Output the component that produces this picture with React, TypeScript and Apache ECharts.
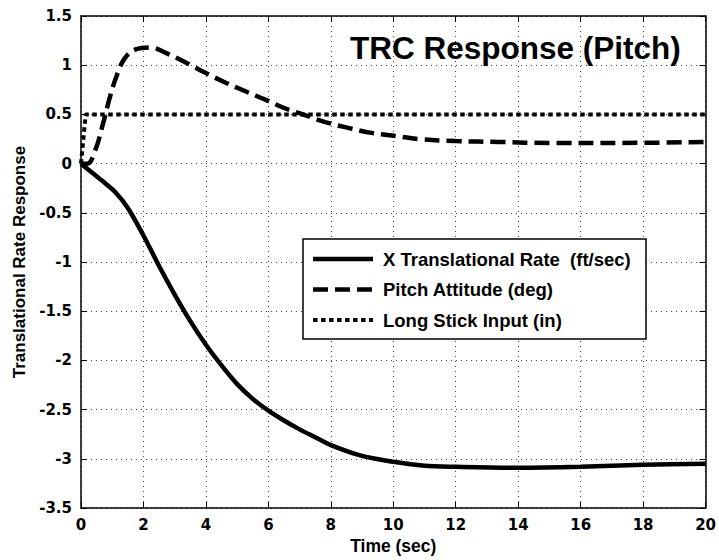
import React, { useEffect, useRef } from "react";
import * as echarts from "echarts";

// Time (sec) / value pairs for each response trace
const xTranslationalRate: [number, number][] = [
  [0, 0], [0.35, -0.09], [0.7, -0.18], [1.1, -0.29], [1.5, -0.45], [2.0, -0.73],
  [2.5, -1.04], [3.0, -1.33], [3.5, -1.6], [4.0, -1.84], [4.5, -2.05], [5.0, -2.24],
  [5.5, -2.39], [6.0, -2.51], [6.5, -2.61], [7.0, -2.7], [7.5, -2.78], [8.0, -2.86],
  [9.0, -2.97], [10, -3.03], [11, -3.07], [12, -3.08], [14, -3.09], [16, -3.08],
  [18, -3.06], [20, -3.05],
];

const pitchAttitude: [number, number][] = [
  [0, 0], [0.2, 0], [0.45, 0.13], [0.7, 0.4], [0.93, 0.68], [1.14, 0.89], [1.4, 1.07],
  [1.75, 1.16], [2.2, 1.18], [2.75, 1.12], [3.4, 1.02], [4.0, 0.92], [4.65, 0.82],
  [5.3, 0.73], [5.9, 0.65], [6.55, 0.56], [7.1, 0.5], [7.85, 0.42], [8.6, 0.36],
  [9.35, 0.31], [10.1, 0.28], [10.8, 0.25], [12, 0.23], [13.4, 0.22], [15, 0.21],
  [17, 0.21], [20, 0.22],
];

const longStickInput: [number, number][] = [
  [0, 0], [0.15, 0.5], [20, 0.5],
];

const seriesNames = [
  "X Translational Rate  (ft/sec)",
  "Pitch Attitude (deg)",
  "Long Stick Input (in)",
];

const FONT = "'Liberation Sans', Arial, Helvetica, sans-serif";
const TICK_FONT = "'DejaVu Sans', 'Liberation Sans', sans-serif";
const solidDash: number[] | null = null;
const dashPattern = [15, 7];
const dotPattern = [4.5, 3.5];

export default function App() {
  const ref = useRef<HTMLDivElement>(null);

  useEffect(() => {
    if (!ref.current) return;
    const chart = echarts.init(ref.current, undefined, { renderer: "svg" });

    const axisCommon = {
      min: 0,
      max: 20,
      interval: 2,
    };
    const yCommon = {
      min: -3.5,
      max: 1.5,
      interval: 0.5,
    };
    const axisLine = { show: true, onZero: false, lineStyle: { color: "#000", width: 1.5 } };
    const tick = { show: true, inside: true, length: 6, lineStyle: { color: "#000", width: 1 } };
    const gridLine = { show: true, lineStyle: { color: "#444", width: 1, type: [1, 4] as number[] } };
    const tickLabel = {
      fontFamily: TICK_FONT,
      fontWeight: "bold" as const,
      fontSize: 15,
      color: "#000",
      margin: 9,
    };

    const legendLeft = 303;
    const legendTop = 239;
    const legendW = 343;
    const legendH = 100;
    const rowY = [259, 289.5, 320];
    const dashes = [solidDash, dashPattern, dotPattern];
    const widths = [4.5, 4.5, 4];

    const legendGraphics: any[] = [
      {
        type: "rect",
        shape: { x: legendLeft, y: legendTop, width: legendW, height: legendH },
        style: { fill: "#fff", stroke: "#000", lineWidth: 1.5 },
        z: 100,
      },
    ];
    seriesNames.forEach((name, i) => {
      legendGraphics.push({
        type: "line",
        shape: { x1: 313, y1: rowY[i], x2: 373, y2: rowY[i] },
        style: {
          stroke: "#000",
          lineWidth: widths[i],
          lineDash: dashes[i] || undefined,
          lineCap: "butt",
        },
        z: 101,
      });
      legendGraphics.push({
        type: "text",
        x: 383,
        y: rowY[i],
        style: {
          text: name,
          font: `bold 18.5px ${FONT}`,
          fill: "#000",
          align: "left",
          verticalAlign: "middle",
        },
        z: 101,
      });
    });

    chart.setOption({
      animation: false,
      backgroundColor: "#fff",
      textStyle: { fontFamily: FONT, fontWeight: "bold", color: "#000" },
      grid: { left: 81, top: 16, right: 12, bottom: 51, containLabel: false },
      xAxis: [
        {
          type: "value",
          ...axisCommon,
          position: "bottom",
          name: "Time (sec)",
          nameLocation: "middle",
          nameGap: 27,
          nameTextStyle: { fontFamily: FONT, fontWeight: "bold", fontSize: 17.5, color: "#000" },
          axisLine,
          axisTick: tick,
          axisLabel: tickLabel,
          splitLine: gridLine,
        },
        {
          type: "value",
          ...axisCommon,
          position: "top",
          axisLine,
          axisTick: tick,
          axisLabel: { show: false },
          splitLine: { show: false },
        },
      ],
      yAxis: [
        {
          type: "value",
          ...yCommon,
          position: "left",
          name: "Translational Rate Response",
          nameLocation: "middle",
          nameGap: 51,
          nameTextStyle: { fontFamily: FONT, fontWeight: "bold", fontSize: 17, color: "#000" },
          axisLine,
          axisTick: tick,
          axisLabel: tickLabel,
          splitLine: gridLine,
        },
        {
          type: "value",
          ...yCommon,
          position: "right",
          axisLine,
          axisTick: tick,
          axisLabel: { show: false },
          splitLine: { show: false },
        },
      ],
      series: [
        {
          name: seriesNames[0],
          type: "line",
          data: xTranslationalRate,
          symbol: "none",
          smooth: 0.3,
          lineStyle: { color: "#000", width: 4.5, type: "solid" },
          z: 5,
        },
        {
          name: seriesNames[1],
          type: "line",
          data: pitchAttitude,
          symbol: "none",
          smooth: 0.4,
          lineStyle: { color: "#000", width: 4.5, type: dashPattern, cap: "butt" },
          z: 5,
        },
        {
          name: seriesNames[2],
          type: "line",
          data: longStickInput,
          symbol: "none",
          smooth: false,
          lineStyle: { color: "#000", width: 4, type: dotPattern, cap: "butt" },
          z: 5,
        },
      ],
      graphic: [
        {
          type: "text",
          x: 350,
          y: 48,
          style: {
            text: "TRC Response (Pitch)",
            font: `bold 31.5px ${FONT}`,
            fill: "#000",
            align: "left",
            verticalAlign: "middle",
          },
          z: 100,
        },
        ...legendGraphics,
      ],
    });

    return () => chart.dispose();
  }, []);

  return (
    <div
      ref={ref}
      style={{ position: "fixed", left: 0, top: 0, width: 719, height: 560, background: "#fff" }}
    />
  );
}
